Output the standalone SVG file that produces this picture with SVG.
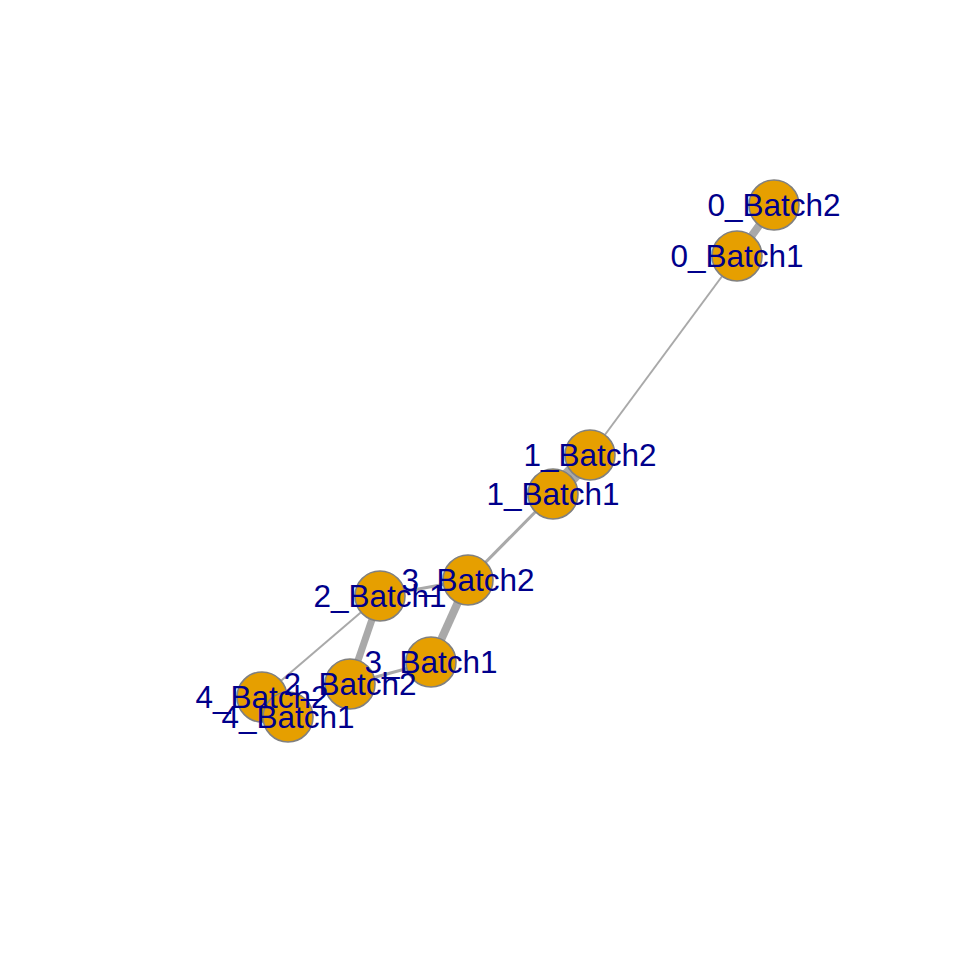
<svg xmlns="http://www.w3.org/2000/svg" width="960" height="960" viewBox="0 0 960 960">
<style>
.e{stroke:#A9A9A9;fill:none;stroke-linecap:butt}
.n{fill:#E69F00;stroke:#808080;stroke-width:1.6}
.l{font-family:"Liberation Sans",Arial,sans-serif;font-size:31.5px;fill:#00008B;text-anchor:middle;dominant-baseline:central}
</style>
<rect width="960" height="960" fill="#FFFFFF"/>
<g id="edges">
<line class="e" x1="774" y1="205" x2="737" y2="256" stroke-width="8"/>
<line class="e" x1="737" y1="256" x2="590" y2="455" stroke-width="2"/>
<line class="e" x1="590" y1="455" x2="553" y2="494" stroke-width="18"/>
<line class="e" x1="553" y1="494" x2="468" y2="580" stroke-width="3"/>
<line class="e" x1="468" y1="580" x2="380" y2="596" stroke-width="3"/>
<line class="e" x1="468" y1="580" x2="431" y2="662" stroke-width="8"/>
<line class="e" x1="380" y1="596" x2="350" y2="684" stroke-width="7"/>
<line class="e" x1="380" y1="596" x2="262" y2="697" stroke-width="2"/>
<line class="e" x1="431" y1="662" x2="350" y2="684" stroke-width="3"/>
<line class="e" x1="262" y1="697" x2="288" y2="717" stroke-width="6"/>
</g>
<g id="n0_Batch2"><circle class="n" cx="774" cy="205" r="25"/></g>
<g id="n0_Batch1"><circle class="n" cx="737" cy="256" r="25"/></g>
<g id="n1_Batch2"><circle class="n" cx="590" cy="455" r="25"/></g>
<g id="n1_Batch1"><circle class="n" cx="553" cy="494" r="25"/></g>
<g id="n3_Batch2"><circle class="n" cx="468" cy="580" r="25"/></g>
<g id="n2_Batch1"><circle class="n" cx="380" cy="596" r="25"/></g>
<g id="n3_Batch1"><circle class="n" cx="431" cy="662" r="25"/></g>
<g id="n2_Batch2"><circle class="n" cx="350" cy="684" r="25"/></g>
<g id="n4_Batch2"><circle class="n" cx="262" cy="697" r="25"/></g>
<g id="n4_Batch1"><circle class="n" cx="288" cy="717" r="25"/></g>
<g id="labels">
<text class="l" x="774" y="205">0_Batch2</text>
<text class="l" x="737" y="256">0_Batch1</text>
<text class="l" x="590" y="455">1_Batch2</text>
<text class="l" x="553" y="494">1_Batch1</text>
<text class="l" x="468" y="580">3_Batch2</text>
<text class="l" x="380" y="596">2_Batch1</text>
<text class="l" x="431" y="662">3_Batch1</text>
<text class="l" x="350" y="684">2_Batch2</text>
<text class="l" x="262" y="697">4_Batch2</text>
<text class="l" x="288" y="717">4_Batch1</text>
</g>
</svg>
